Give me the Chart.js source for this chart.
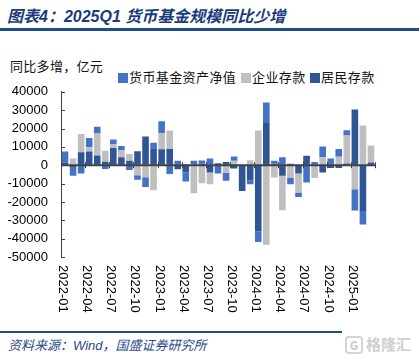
<!DOCTYPE html>
<html><head><meta charset="utf-8">
<script src="https://cdn.jsdelivr.net/npm/chart.js@4.4.1/dist/chart.umd.min.js"></script>
<style>
body{margin:0;background:#fff;}
#page{position:relative;width:419px;height:355px;overflow:hidden;font-family:"Noto Sans CJK SC",sans-serif;background:#fff;}
#title{position:absolute;left:7px;top:3px;font:italic bold 16px "Liberation Sans","Noto Sans CJK SC",sans-serif;color:#1B3C7A;white-space:nowrap;}
#topline{position:absolute;left:0;top:28px;width:419px;height:3px;background:#1F4E8C;}
#sub{position:absolute;left:10px;top:56px;font-size:13px;color:#111;white-space:nowrap;letter-spacing:0.3px;}
#legend{position:absolute;left:118px;top:67px;font-size:13px;color:#111;white-space:nowrap;letter-spacing:0.4px;}
#legend span.it{position:absolute;top:0;white-space:nowrap;}
#legend i{display:inline-block;width:10px;height:10px;margin-right:1px;vertical-align:-1px;}
#wrap{position:absolute;left:0;top:71px;width:419px;height:254px;}
#botline{position:absolute;left:0;top:331px;width:342px;height:2px;background:#1F4E8C;}
#src{position:absolute;left:8px;top:335px;font:italic 13px "Liberation Sans","Noto Sans CJK SC",sans-serif;color:#2A4A8A;white-space:nowrap;}
#wm{position:absolute;left:345px;top:333px;color:#cfcfcf;font-size:15px;font-weight:bold;white-space:nowrap;}
#wm b{display:inline-block;border:2px solid #d4d4d4;border-radius:4px;width:14px;height:14px;line-height:14px;text-align:center;font-size:12px;margin-right:3px;}
</style></head><body>
<div id="page">
<div id="title">图表4：2025Q1 货币基金规模同比少增</div>
<div id="topline"></div>
<div id="sub">同比多增，亿元</div>
<div id="legend"></div>
<div id="wrap"><canvas id="c"></canvas></div>
<div id="botline"></div>
<div id="src">资料来源：Wind，国盛证券研究所</div>
<div id="wm"><b>G</b>格隆汇</div>
</div>
<script>
const categories = [];
for (let y = 2022; y <= 2025; y++) {
  for (let m = 1; m <= 12; m++) {
    if (y === 2025 && m > 3) break;
    categories.push(y + '-' + String(m).padStart(2, '0'));
  }
}
const tickLabels = ['2022-01','2022-04','2022-07','2022-10','2023-01','2023-04','2023-07','2023-10','2024-01','2024-04','2024-07','2024-10','2025-01'];
const seriesNames = ['货币基金资产净值','企业存款','居民存款'];
const seriesColors = ['#4472C4','#BFBFBF','#2F5597'];

// 居民存款
const residentDeposits = [1500,-1000,7000,7500,5300,1900,9400,4300,2500,7600,15700,8900,
  8700,8900,-2200,-4000,0,800,-3900,1100,1800,-1800,-14000,-8300,
  -36000,23000,1000,-5800,800,-4500,5200,0,-3900,-1500,-1500,1000,
  30300,-25000,1500];
// 企业存款
const corporateDeposits = [0,3700,10000,2300,12000,6000,2200,3700,3600,-5500,-6500,-13600,
  8800,10000,0,600,-15300,-9800,-6400,0,-4100,2400,500,2700,
  18900,-43300,-6700,-18700,-6700,-10400,0,-7000,4300,0,4600,15200,
  -13100,21700,9200];
// 货币基金资产净值
const moneyFund = [6000,-4700,-4500,5000,3700,-2100,2400,2500,-2600,-2400,-5300,3300,
  6500,-4800,2400,-4900,2400,1800,3700,-4500,-4400,2300,0,-2000,
  -5800,11200,1500,4300,-3600,-2400,-9400,1800,5900,3700,4300,2800,
  -11500,-7300,0];

const lg = document.getElementById('legend');
const lgX = [0, 123, 192];
seriesNames.forEach((n, k) => {
  const s = document.createElement('span');
  s.className = 'it';
  s.style.left = lgX[k] + 'px';
  s.innerHTML = '<i style="background:' + seriesColors[k] + '"></i>' + n;
  lg.appendChild(s);
});

const axisColor = '#404040';
const deco = {
  id: 'deco',
  afterDatasetsDraw(chart) {
    const ctx = chart.ctx, xs = chart.scales.x, ys = chart.scales.y, ca = chart.chartArea;
    const cw = (ca.right - ca.left) / categories.length;
    const zy = ys.getPixelForValue(0);
    ctx.save();
    ctx.strokeStyle = axisColor; ctx.lineWidth = 2;
    ctx.beginPath(); ctx.moveTo(ca.left, zy); ctx.lineTo(ca.right, zy); ctx.stroke();
    ctx.lineWidth = 1;
    for (let i = 0; i <= categories.length; i += 3) {
      const x = Math.round(xs.getPixelForValue(Math.min(i, categories.length - 1)) + (i === categories.length ? cw / 2 : -cw / 2)) + 0.5;
      ctx.beginPath(); ctx.moveTo(x, zy - 3); ctx.lineTo(x, zy + 3); ctx.stroke();
    }
    ys.ticks.forEach(t => {
      const y = Math.round(ys.getPixelForValue(t.value)) + 0.5;
      ctx.beginPath(); ctx.moveTo(ca.left, y); ctx.lineTo(ca.left + 4, y); ctx.stroke();
    });
    ctx.fillStyle = '#000';
    ctx.font = '13px "Liberation Sans", Arial, sans-serif';
    ctx.textAlign = 'left'; ctx.textBaseline = 'middle';
    tickLabels.forEach(lab => {
      const i = categories.indexOf(lab);
      const x = xs.getPixelForValue(i) - cw / 2 + 1.5;
      ctx.save();
      ctx.translate(x, ca.bottom + 8);
      ctx.rotate(Math.PI / 2);
      ctx.fillText(lab, 0, 0);
      ctx.restore();
    });
    ctx.restore();
  }
};

new Chart(document.getElementById('c'), {
  type: 'bar',
  data: {
    labels: categories,
    datasets: [
      { label: seriesNames[2], data: residentDeposits, backgroundColor: seriesColors[2] },
      { label: seriesNames[1], data: corporateDeposits, backgroundColor: seriesColors[1] },
      { label: seriesNames[0], data: moneyFund, backgroundColor: seriesColors[0] }
    ]
  },
  options: {
    responsive: true, maintainAspectRatio: false, animation: false,
    layout: { padding: { top: 6.7, right: 44, bottom: 0, left: 0 } },
    datasets: { bar: { barPercentage: 0.82, categoryPercentage: 1.0 } },
    plugins: { legend: { display: false }, tooltip: { enabled: false } },
    scales: {
      x: {
        stacked: true,
        grid: { display: false }, border: { display: false },
        ticks: { display: false },
        afterFit(s) { s.height = 68; }
      },
      y: {
        stacked: true, min: -50000, max: 40000,
        afterFit(s) { s.width = 61; },
        ticks: {
          stepSize: 10000, padding: 13, color: '#000', autoSkip: false,
          font: { family: '"Liberation Sans", Arial, sans-serif', size: 13 },
          callback: v => String(v)
        },
        grid: { drawTicks: false, drawOnChartArea: false },
        border: { display: true, color: axisColor, width: 1 }
      }
    }
  },
  plugins: [deco]
});
</script>
</body></html>
